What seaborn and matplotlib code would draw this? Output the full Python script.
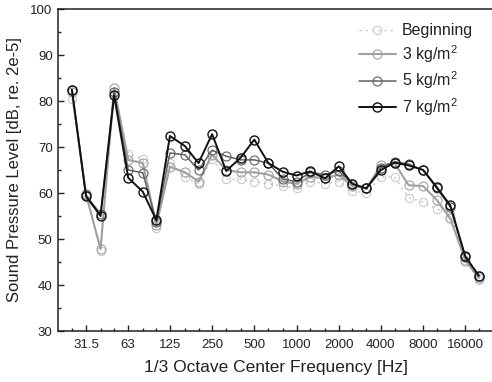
import matplotlib
matplotlib.use("Agg")
import matplotlib.pyplot as plt
import seaborn as sns
import pandas as pd
import numpy as np
from matplotlib.ticker import FixedLocator, NullFormatter, FixedFormatter

freqs = [25, 31.5, 40, 50, 63, 80, 100, 125, 160, 200, 250, 315, 400, 500, 630,
         800, 1000, 1250, 1600, 2000, 2500, 3150, 4000, 5000, 6300, 8000, 10000,
         12500, 16000, 20000]

beginning = [80.5, 60.0, 47.5, 82.0, 68.5, 67.5, 52.5, 66.5, 63.5, 62.0, 67.5, 63.0,
             63.0, 62.5, 62.0, 61.5, 61.0, 62.5, 62.0, 62.5, 60.5, 60.0, 63.5, 63.5,
             59.0, 58.0, 56.5, 55.5, 45.5, 41.0]
kg3 = [82.0, 59.8, 47.8, 82.8, 67.2, 66.5, 53.0, 65.7, 64.5, 62.5, 68.3, 65.0,
       64.5, 64.5, 64.0, 62.5, 62.0, 63.5, 63.2, 64.0, 61.5, 61.0, 66.0, 66.5,
       61.7, 61.5, 58.5, 54.5, 45.3, 41.5]
kg5 = [82.5, 59.5, 55.5, 82.0, 65.0, 64.4, 53.8, 68.7, 68.3, 65.0, 69.3, 68.0,
       67.2, 67.2, 66.5, 63.0, 62.5, 64.5, 64.0, 64.8, 62.0, 61.0, 65.5, 66.8,
       66.3, 65.0, 61.0, 57.0, 46.0, 42.0]
kg7 = [82.5, 59.3, 55.0, 81.2, 63.3, 60.3, 54.1, 72.4, 70.2, 66.5, 72.8, 64.8,
       67.7, 71.6, 66.5, 64.6, 63.8, 64.7, 63.2, 65.8, 62.0, 61.0, 65.0, 66.6,
       66.0, 65.0, 61.3, 57.3, 46.2, 42.0]

series_names = ["Beginning", "3 kg/m$^2$", "5 kg/m$^2$", "7 kg/m$^2$"]
series_vals = [beginning, kg3, kg5, kg7]
major_ticks = [31.5, 63, 125, 250, 500, 1000, 2000, 4000, 8000, 16000]
major_labels = ["31.5", "63", "125", "250", "500", "1000", "2000", "4000", "8000", "16000"]

sns.set_style("ticks")
plt.rcParams['font.family'] = ['Liberation Sans', 'DejaVu Sans']
plt.rcParams['mathtext.fontset'] = 'custom'
plt.rcParams['mathtext.rm'] = 'Liberation Sans'

fig = plt.figure(figsize=(4.92, 3.82), dpi=100)
W, H = 492, 382
left_px, right_px, top_px, bot_px = 57.5, 493.5, 9, 331
ax = fig.add_axes([left_px / W, 1 - bot_px / H, (right_px - left_px) / W, (bot_px - top_px) / H])

styles = [
    dict(color="#c4c4c4", linestyle=(0, (1.5, 3)), lw=1.0, ms=6, mew=0.7),
    dict(color="#a0a0a0", linestyle="-", lw=1.5, ms=6.5, mew=0.8),
    dict(color="#606060", linestyle="-", lw=1.1, ms=6.5, mew=0.8),
    dict(color="#111111", linestyle="-", lw=1.4, ms=6.5, mew=1.0),
]

for name, vals, st in zip(series_names, series_vals, styles):
    df = pd.DataFrame({"f": freqs, "v": vals})
    sns.lineplot(data=df, x="f", y="v", ax=ax, color=st["color"], linestyle=st["linestyle"],
                 lw=st["lw"], marker="o", ms=st["ms"], mfc="none", mec=st["color"],
                 mew=st["mew"], label=name)

ax.set_xscale("log", base=2)
x0 = 31.5 / 2 ** ((86 - left_px) / 42.2)
x1 = 31.5 * 2 ** ((right_px - 86) / 42.2)
ax.set_xlim(x0, x1)
ax.set_ylim(30, 100)
ax.xaxis.set_major_locator(FixedLocator(major_ticks))
ax.xaxis.set_major_formatter(FixedFormatter(major_labels))
ax.xaxis.set_minor_locator(FixedLocator([f for f in freqs if f not in major_ticks]))
ax.xaxis.set_minor_formatter(NullFormatter())
ax.set_yticks(np.arange(30, 101, 10))
ax.set_yticks(np.arange(35, 100, 10), minor=True)
ax.tick_params(which="both", direction="in", labelsize=9.5, colors="#222222")
ax.tick_params(which="major", length=4, width=1)
ax.tick_params(which="minor", length=2.5, width=1)
ax.tick_params(axis="x", pad=6)
for s in ax.spines.values():
    s.set_linewidth(1.1)
    s.set_color("#222222")

ax.set_xlabel("1/3 Octave Center Frequency [Hz]", fontsize=12.5, color="#222222", labelpad=6)
ax.set_ylabel("Sound Pressure Level [dB, re. 2e-5]", fontsize=12, color="#222222", labelpad=6)

leg = ax.legend(loc="upper right", bbox_to_anchor=(0.975, 0.985), frameon=False,
                fontsize=11.5, handlelength=2.3, handletextpad=0.4, labelspacing=0.3,
                borderaxespad=0.2)
for t in leg.get_texts():
    t.set_color("#222222")

fig.savefig("out.png", dpi=100)
